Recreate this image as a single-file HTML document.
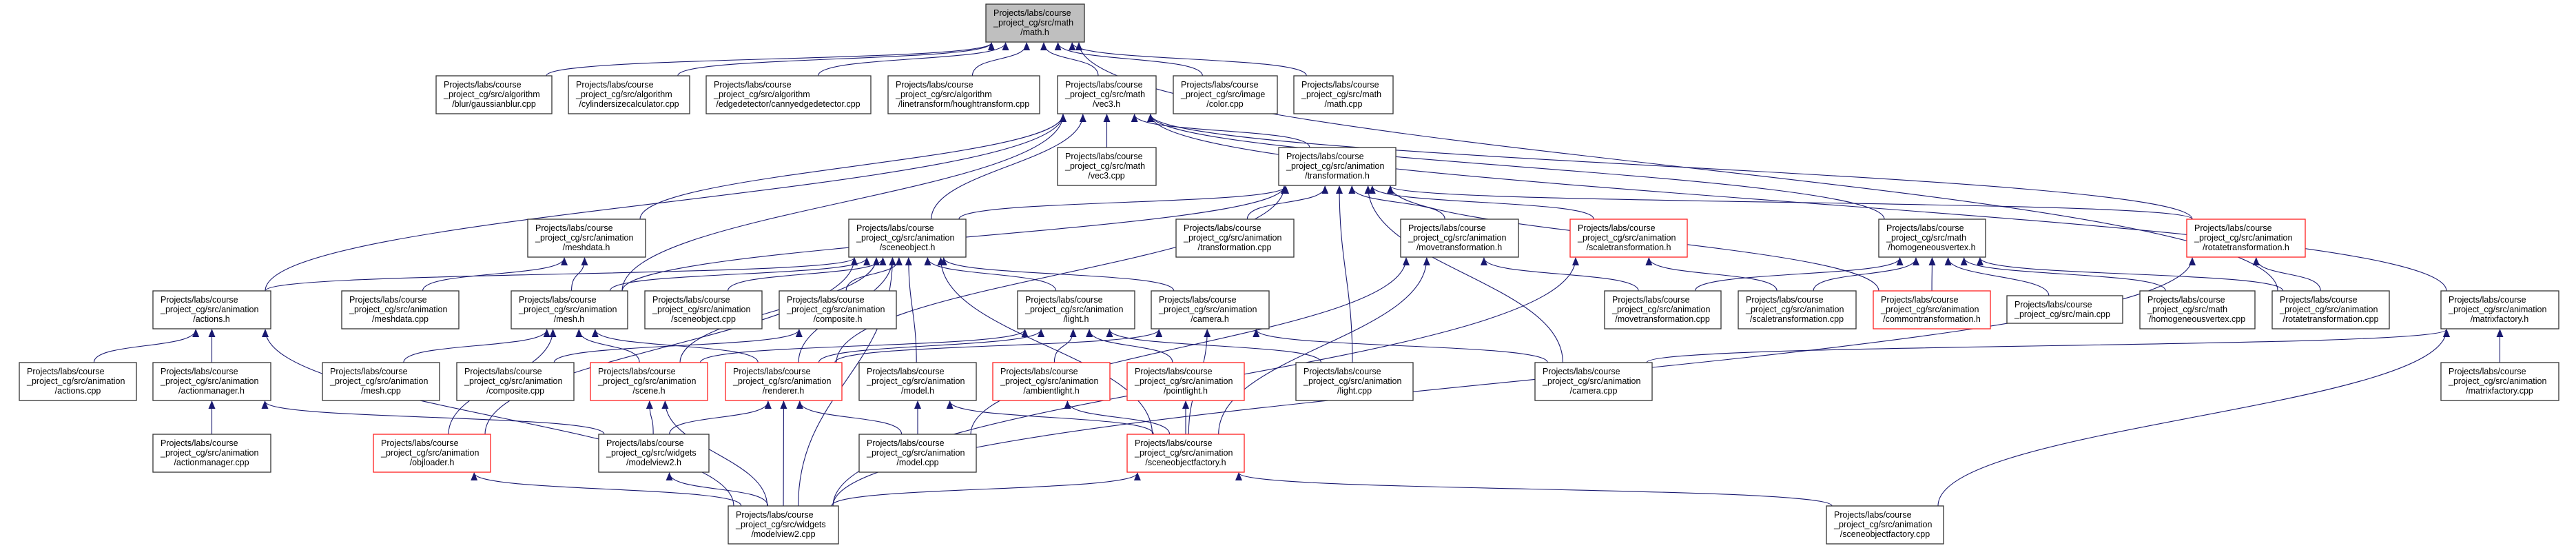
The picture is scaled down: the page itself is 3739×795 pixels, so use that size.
<!DOCTYPE html>
<html><head><meta charset="utf-8"><style>
html,body{margin:0;padding:0;background:#fff;}
svg{display:block;}
text{font-family:"Liberation Sans",sans-serif;font-size:12.5px;fill:#000;}
.n rect{fill:#fff;stroke:#333;stroke-width:1.3;}
.r rect{fill:#fff;stroke:#ff2020;stroke-width:1.3;}
.g rect{fill:#bfbfbf;stroke:#333;stroke-width:1.3;}
</style></head><body>
<svg id="s" width="3739" height="795" viewBox="0 0 3739 795" xmlns="http://www.w3.org/2000/svg">
<defs><marker id="a" markerWidth="12" markerHeight="10" refX="11" refY="5" orient="auto" markerUnits="userSpaceOnUse"><path d="M0,0 L12,5 L0,10 z" fill="#191970"/></marker></defs>
<g id="edges" fill="none" stroke="#191970" stroke-width="1.1"></g>
<g id="nodes">
<g class="g"><rect x="1431" y="6" width="143" height="55"/><text x="1442" y="23">Projects/labs/course</text><text x="1442" y="37">_project_cg/src/math</text><text x="1502" y="51" text-anchor="middle">/math.h</text></g>

<g class="n"><rect x="633" y="110" width="168" height="55"/><text x="644" y="127">Projects/labs/course</text><text x="644" y="141">_project_cg/src/algorithm</text><text x="717" y="155" text-anchor="middle">/blur/gaussianblur.cpp</text></g>
<g class="n"><rect x="825" y="110" width="176" height="55"/><text x="836" y="127">Projects/labs/course</text><text x="836" y="141">_project_cg/src/algorithm</text><text x="913" y="155" text-anchor="middle">/cylindersizecalculator.cpp</text></g>
<g class="n"><rect x="1025" y="110" width="239" height="55"/><text x="1036" y="127">Projects/labs/course</text><text x="1036" y="141">_project_cg/src/algorithm</text><text x="1144" y="155" text-anchor="middle">/edgedetector/cannyedgedetector.cpp</text></g>
<g class="n"><rect x="1289" y="110" width="220" height="55"/><text x="1300" y="127">Projects/labs/course</text><text x="1300" y="141">_project_cg/src/algorithm</text><text x="1399" y="155" text-anchor="middle">/linetransform/houghtransform.cpp</text></g>
<g class="n"><rect x="1535" y="110" width="143" height="55"/><text x="1546" y="127">Projects/labs/course</text><text x="1546" y="141">_project_cg/src/math</text><text x="1606" y="155" text-anchor="middle">/vec3.h</text></g>
<g class="n"><rect x="1703" y="110" width="151" height="55"/><text x="1714" y="127">Projects/labs/course</text><text x="1714" y="141">_project_cg/src/image</text><text x="1778" y="155" text-anchor="middle">/color.cpp</text></g>
<g class="n"><rect x="1878" y="110" width="144" height="55"/><text x="1889" y="127">Projects/labs/course</text><text x="1889" y="141">_project_cg/src/math</text><text x="1950" y="155" text-anchor="middle">/math.cpp</text></g>

<g class="n"><rect x="1535" y="214" width="143" height="55"/><text x="1546" y="231">Projects/labs/course</text><text x="1546" y="245">_project_cg/src/math</text><text x="1606" y="259" text-anchor="middle">/vec3.cpp</text></g>
<g class="n"><rect x="1856" y="214" width="170" height="55"/><text x="1867" y="231">Projects/labs/course</text><text x="1867" y="245">_project_cg/src/animation</text><text x="1941" y="259" text-anchor="middle">/transformation.h</text></g>

<g class="n"><rect x="766" y="318" width="171" height="55"/><text x="777" y="335">Projects/labs/course</text><text x="777" y="349">_project_cg/src/animation</text><text x="851" y="363" text-anchor="middle">/meshdata.h</text></g>
<g class="n"><rect x="1232" y="318" width="170" height="55"/><text x="1243" y="335">Projects/labs/course</text><text x="1243" y="349">_project_cg/src/animation</text><text x="1317" y="363" text-anchor="middle">/sceneobject.h</text></g>
<g class="n"><rect x="1707" y="318" width="171" height="55"/><text x="1718" y="335">Projects/labs/course</text><text x="1718" y="349">_project_cg/src/animation</text><text x="1792" y="363" text-anchor="middle">/transformation.cpp</text></g>
<g class="n"><rect x="2033" y="318" width="171" height="55"/><text x="2044" y="335">Projects/labs/course</text><text x="2044" y="349">_project_cg/src/animation</text><text x="2118" y="363" text-anchor="middle">/movetransformation.h</text></g>
<g class="r"><rect x="2279" y="318" width="170" height="55"/><text x="2290" y="335">Projects/labs/course</text><text x="2290" y="349">_project_cg/src/animation</text><text x="2364" y="363" text-anchor="middle">/scaletransformation.h</text></g>
<g class="n"><rect x="2727" y="318" width="155" height="55"/><text x="2738" y="335">Projects/labs/course</text><text x="2738" y="349">_project_cg/src/math</text><text x="2804" y="363" text-anchor="middle">/homogeneousvertex.h</text></g>
<g class="r"><rect x="3174" y="318" width="172" height="55"/><text x="3185" y="335">Projects/labs/course</text><text x="3185" y="349">_project_cg/src/animation</text><text x="3260" y="363" text-anchor="middle">/rotatetransformation.h</text></g>

<g class="n"><rect x="222" y="422" width="171" height="55"/><text x="233" y="439">Projects/labs/course</text><text x="233" y="453">_project_cg/src/animation</text><text x="307" y="467" text-anchor="middle">/actions.h</text></g>
<g class="n"><rect x="496" y="422" width="170" height="55"/><text x="507" y="439">Projects/labs/course</text><text x="507" y="453">_project_cg/src/animation</text><text x="581" y="467" text-anchor="middle">/meshdata.cpp</text></g>
<g class="n"><rect x="742" y="422" width="169" height="55"/><text x="753" y="439">Projects/labs/course</text><text x="753" y="453">_project_cg/src/animation</text><text x="826" y="467" text-anchor="middle">/mesh.h</text></g>
<g class="n"><rect x="936" y="422" width="170" height="55"/><text x="947" y="439">Projects/labs/course</text><text x="947" y="453">_project_cg/src/animation</text><text x="1021" y="467" text-anchor="middle">/sceneobject.cpp</text></g>
<g class="n"><rect x="1131" y="422" width="170" height="55"/><text x="1142" y="439">Projects/labs/course</text><text x="1142" y="453">_project_cg/src/animation</text><text x="1216" y="467" text-anchor="middle">/composite.h</text></g>
<g class="n"><rect x="1477" y="422" width="170" height="55"/><text x="1488" y="439">Projects/labs/course</text><text x="1488" y="453">_project_cg/src/animation</text><text x="1562" y="467" text-anchor="middle">/light.h</text></g>
<g class="n"><rect x="1671" y="422" width="171" height="55"/><text x="1682" y="439">Projects/labs/course</text><text x="1682" y="453">_project_cg/src/animation</text><text x="1756" y="467" text-anchor="middle">/camera.h</text></g>
<g class="n"><rect x="2329" y="422" width="169" height="55"/><text x="2340" y="439">Projects/labs/course</text><text x="2340" y="453">_project_cg/src/animation</text><text x="2413" y="467" text-anchor="middle">/movetransformation.cpp</text></g>
<g class="n"><rect x="2523" y="422" width="171" height="55"/><text x="2534" y="439">Projects/labs/course</text><text x="2534" y="453">_project_cg/src/animation</text><text x="2608" y="467" text-anchor="middle">/scaletransformation.cpp</text></g>
<g class="r"><rect x="2719" y="422" width="170" height="55"/><text x="2730" y="439">Projects/labs/course</text><text x="2730" y="453">_project_cg/src/animation</text><text x="2804" y="467" text-anchor="middle">/commontransformation.h</text></g>
<g class="n"><rect x="2913" y="429" width="168" height="40"/><text x="2924" y="446">Projects/labs/course</text><text x="2924" y="460">_project_cg/src/main.cpp</text></g>
<g class="n"><rect x="3106" y="422" width="167" height="55"/><text x="3117" y="439">Projects/labs/course</text><text x="3117" y="453">_project_cg/src/math</text><text x="3189" y="467" text-anchor="middle">/homogeneousvertex.cpp</text></g>
<g class="n"><rect x="3298" y="422" width="170" height="55"/><text x="3309" y="439">Projects/labs/course</text><text x="3309" y="453">_project_cg/src/animation</text><text x="3383" y="467" text-anchor="middle">/rotatetransformation.cpp</text></g>
<g class="n"><rect x="3543" y="422" width="171" height="55"/><text x="3554" y="439">Projects/labs/course</text><text x="3554" y="453">_project_cg/src/animation</text><text x="3628" y="467" text-anchor="middle">/matrixfactory.h</text></g>

<g class="n"><rect x="28" y="526" width="170" height="55"/><text x="39" y="543">Projects/labs/course</text><text x="39" y="557">_project_cg/src/animation</text><text x="113" y="571" text-anchor="middle">/actions.cpp</text></g>
<g class="n"><rect x="222" y="526" width="171" height="55"/><text x="233" y="543">Projects/labs/course</text><text x="233" y="557">_project_cg/src/animation</text><text x="307" y="571" text-anchor="middle">/actionmanager.h</text></g>
<g class="n"><rect x="468" y="526" width="170" height="55"/><text x="479" y="543">Projects/labs/course</text><text x="479" y="557">_project_cg/src/animation</text><text x="553" y="571" text-anchor="middle">/mesh.cpp</text></g>
<g class="n"><rect x="663" y="526" width="170" height="55"/><text x="674" y="543">Projects/labs/course</text><text x="674" y="557">_project_cg/src/animation</text><text x="748" y="571" text-anchor="middle">/composite.cpp</text></g>
<g class="r"><rect x="857" y="526" width="170" height="55"/><text x="868" y="543">Projects/labs/course</text><text x="868" y="557">_project_cg/src/animation</text><text x="942" y="571" text-anchor="middle">/scene.h</text></g>
<g class="r"><rect x="1053" y="526" width="169" height="55"/><text x="1064" y="543">Projects/labs/course</text><text x="1064" y="557">_project_cg/src/animation</text><text x="1137" y="571" text-anchor="middle">/renderer.h</text></g>
<g class="n"><rect x="1247" y="526" width="170" height="55"/><text x="1258" y="543">Projects/labs/course</text><text x="1258" y="557">_project_cg/src/animation</text><text x="1332" y="571" text-anchor="middle">/model.h</text></g>
<g class="r"><rect x="1441" y="526" width="170" height="55"/><text x="1452" y="543">Projects/labs/course</text><text x="1452" y="557">_project_cg/src/animation</text><text x="1526" y="571" text-anchor="middle">/ambientlight.h</text></g>
<g class="r"><rect x="1636" y="526" width="170" height="55"/><text x="1647" y="543">Projects/labs/course</text><text x="1647" y="557">_project_cg/src/animation</text><text x="1721" y="571" text-anchor="middle">/pointlight.h</text></g>
<g class="n"><rect x="1881" y="526" width="170" height="55"/><text x="1892" y="543">Projects/labs/course</text><text x="1892" y="557">_project_cg/src/animation</text><text x="1966" y="571" text-anchor="middle">/light.cpp</text></g>
<g class="n"><rect x="2228" y="526" width="170" height="55"/><text x="2239" y="543">Projects/labs/course</text><text x="2239" y="557">_project_cg/src/animation</text><text x="2313" y="571" text-anchor="middle">/camera.cpp</text></g>
<g class="n"><rect x="3543" y="526" width="171" height="55"/><text x="3554" y="543">Projects/labs/course</text><text x="3554" y="557">_project_cg/src/animation</text><text x="3628" y="571" text-anchor="middle">/matrixfactory.cpp</text></g>

<g class="n"><rect x="222" y="630" width="171" height="55"/><text x="233" y="647">Projects/labs/course</text><text x="233" y="661">_project_cg/src/animation</text><text x="307" y="675" text-anchor="middle">/actionmanager.cpp</text></g>
<g class="r"><rect x="542" y="630" width="170" height="55"/><text x="553" y="647">Projects/labs/course</text><text x="553" y="661">_project_cg/src/animation</text><text x="627" y="675" text-anchor="middle">/objloader.h</text></g>
<g class="n"><rect x="869" y="630" width="160" height="55"/><text x="880" y="647">Projects/labs/course</text><text x="880" y="661">_project_cg/src/widgets</text><text x="949" y="675" text-anchor="middle">/modelview2.h</text></g>
<g class="n"><rect x="1247" y="630" width="170" height="55"/><text x="1258" y="647">Projects/labs/course</text><text x="1258" y="661">_project_cg/src/animation</text><text x="1332" y="675" text-anchor="middle">/model.cpp</text></g>
<g class="r"><rect x="1636" y="630" width="170" height="55"/><text x="1647" y="647">Projects/labs/course</text><text x="1647" y="661">_project_cg/src/animation</text><text x="1721" y="675" text-anchor="middle">/sceneobjectfactory.h</text></g>

<g class="n"><rect x="1057" y="734" width="160" height="55"/><text x="1068" y="751">Projects/labs/course</text><text x="1068" y="765">_project_cg/src/widgets</text><text x="1137" y="779" text-anchor="middle">/modelview2.cpp</text></g>
<g class="n"><rect x="2651" y="734" width="170" height="55"/><text x="2662" y="751">Projects/labs/course</text><text x="2662" y="765">_project_cg/src/animation</text><text x="2736" y="779" text-anchor="middle">/sceneobjectfactory.cpp</text></g>
</g>
</svg>
<script>
var N={mathh:[1431,6,143],blur:[633,110,168],cyl:[825,110,176],canny:[1025,110,239],hough:[1289,110,220],vec3h:[1535,110,143],color:[1703,110,151],mathcpp:[1878,110,144],
vec3cpp:[1535,214,143],transh:[1856,214,170],
meshdatah:[766,318,171],sobjh:[1232,318,170],transcpp:[1707,318,171],moveh:[2033,318,171],scaleh:[2279,318,170],homoh:[2727,318,155],roth:[3174,318,172],
actionsh:[222,422,171],meshdatacpp:[496,422,170],meshh:[742,422,169],sobjcpp:[936,422,170],comph:[1131,422,170],lighth:[1477,422,170],camh:[1671,422,171],movecpp:[2329,422,169],scalecpp:[2523,422,171],commonh:[2719,422,170],maincpp:[2913,429,168,40],homocpp:[3106,422,167],rotcpp:[3298,422,170],mfh:[3543,422,171],
actionscpp:[28,526,170],amh:[222,526,171],meshcpp:[468,526,170],compcpp:[663,526,170],sceneh:[857,526,170],rendh:[1053,526,169],modelh:[1247,526,170],ambh:[1441,526,170],pointh:[1636,526,170],lightcpp:[1881,526,170],camcpp:[2228,526,170],mfcpp:[3543,526,171],
amcpp:[222,630,171],objh:[542,630,170],mv2h:[869,630,160],modelcpp:[1247,630,170],sofh:[1636,630,170],
mv2cpp:[1057,734,160],sofcpp:[2651,734,170]};
var E={mathh:['blur','cyl','canny','hough','vec3h','color','mathcpp','rotcpp'],
vec3h:['vec3cpp','transh','actionsh','meshdatah','meshh','sobjh','homoh','mfh','roth'],
transh:['transcpp','moveh','scaleh','roth','commonh','lightcpp','rendh','meshh','sobjh','camcpp'],
meshdatah:['meshdatacpp','meshh'],
sobjh:['actionsh','meshh','sobjcpp','comph','lighth','camh','modelh','sceneh','rendh','objh','sofh','mv2cpp'],
meshh:['meshcpp','rendh','sceneh','objh'],
actionsh:['actionscpp','amh','mv2cpp'],amh:['amcpp','mv2h'],comph:['compcpp'],
lighth:['ambh','pointh','lightcpp','rendh','sceneh'],camh:['camcpp','rendh','sofh'],
moveh:['movecpp','sofh','modelcpp'],scaleh:['scalecpp','mv2cpp'],
homoh:['movecpp','scalecpp','commonh','maincpp','homocpp','rotcpp'],roth:['rotcpp','mv2cpp'],
mfh:['mfcpp','camcpp','sofcpp'],modelh:['modelcpp','sofh'],ambh:['sofh'],pointh:['sofh'],
sceneh:['mv2h','mv2cpp'],rendh:['mv2h','mv2cpp','modelcpp'],objh:['mv2cpp'],mv2h:['mv2cpp'],sofh:['mv2cpp','sofcpp']};
var g=document.getElementById('edges'),h='';
function cl(v,a,b){return Math.max(a,Math.min(b,v));}
for(var p in E){var P=N[p],pw=P[2],ph=P[3]||55,pcx=P[0]+pw/2,pb=P[1]+ph;
E[p].forEach(function(c){var C=N[c],cw=C[2],ccx=C[0]+cw/2,ct=C[1];
var px=pcx+cl((ccx-pcx)*0.12,-pw/2+8,pw/2-8),cx=ccx+cl((pcx-ccx)*0.12,-cw/2+8,cw/2-8);
var dy=ct-pb,k=Math.max(30,dy*0.45);
h+='<path d="M'+cx+','+ct+' C'+cx+','+(ct-k)+' '+px+','+(pb+k)+' '+px+','+(pb+1)+'" marker-end="url(#a)"/>';});}
g.innerHTML=h;
</script>
</body></html>
